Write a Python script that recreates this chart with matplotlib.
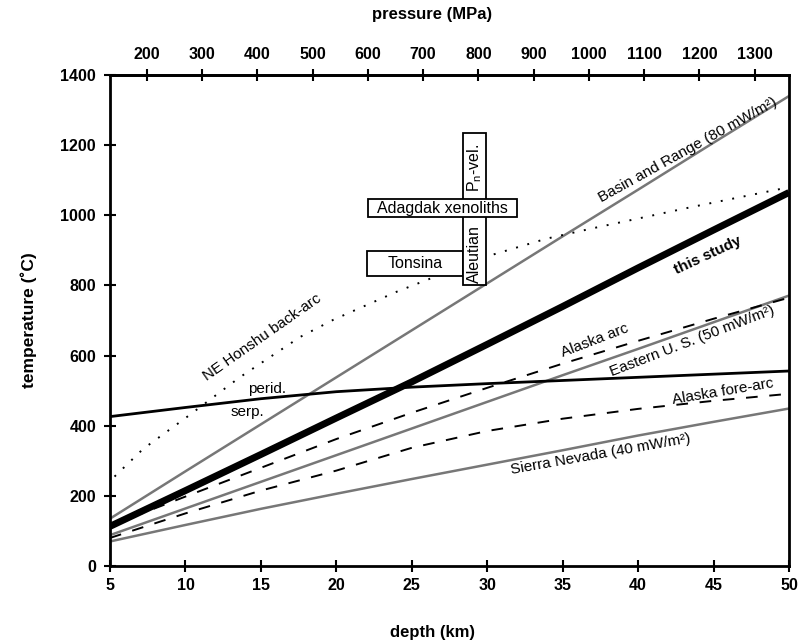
import matplotlib
matplotlib.use("Agg")
import matplotlib.pyplot as plt
from matplotlib.patches import Rectangle

plt.rcParams['font.family'] = ['Liberation Sans', 'DejaVu Sans']

# ---------------- data ----------------
depth_km = [5, 10, 15, 20, 25, 30, 35, 40, 45, 50]
this_study = [113, 215, 318, 422, 525, 632, 740, 850, 958, 1065]
basin_range = [135, 270, 404, 538, 672, 806, 940, 1073, 1207, 1340]
eastern_us = [88, 164, 240, 316, 392, 468, 544, 619, 695, 771]
sierra_nevada = [70, 117, 163, 206, 248, 289, 330, 372, 411, 449]
alaska_arc = [115, 198, 280, 362, 437, 508, 577, 642, 705, 765]
alaska_forearc = [80, 150, 215, 272, 337, 385, 420, 448, 471, 491]
perid_serp = [426, 452, 477, 497, 510, 520, 529, 538, 547, 556]

honshu_depth = [5.3, 7.2, 10.1, 13.6, 17.6, 19.8, 24, 30, 33.9, 37, 43.6, 50]
honshu_temp = [255, 334, 425, 538, 653, 702, 782, 883, 933, 963, 1024, 1080]

# boxes: (depth_min, depth_max, T_min, T_max)
aleutian_box = (28.4, 29.9, 802, 1235)
adagdak_box = (22.1, 32.0, 995, 1046)
tonsina_box = (22.0, 28.4, 827, 899)

x_ticks = [5, 10, 15, 20, 25, 30, 35, 40, 45, 50]
y_ticks = [0, 200, 400, 600, 800, 1000, 1200, 1400]
p_ticks = [200, 300, 400, 500, 600, 700, 800, 900, 1000, 1100, 1200, 1300]
MPA_PER_KM = 27.3
MPA_OFFSET = -3.0

# ---------------- figure ----------------
W, H = 798, 643
fig = plt.figure(figsize=(W/100, H/100), dpi=100)
ax = fig.add_axes([110/W, (H-566)/H, (789-110)/W, (566-75)/H])

gray = '#777777'
ax.plot(depth_km, basin_range, color=gray, lw=1.8, zorder=2)
ax.plot(depth_km, eastern_us, color=gray, lw=1.8, zorder=2)
ax.plot(depth_km, sierra_nevada, color=gray, lw=1.8, zorder=2)
ax.plot(depth_km, alaska_arc, color='black', lw=1.4, linestyle=(0, (6, 6)), zorder=2)
ax.plot(depth_km, alaska_forearc, color='black', lw=1.4, linestyle=(0, (6, 6)), zorder=2)
ax.plot(honshu_depth, honshu_temp, color='black', lw=1.4, linestyle=(0, (1, 5)), zorder=2)
ax.plot(depth_km, perid_serp, color='black', lw=2.0, zorder=3)
ax.plot(depth_km, this_study, color='black', lw=5.0, zorder=3, solid_capstyle='butt')

# boxes
def box(b, z):
    r = Rectangle((b[0], b[2]), b[1]-b[0], b[3]-b[2], facecolor='white',
                  edgecolor='black', lw=1.3, zorder=z)
    ax.add_patch(r)

box(tonsina_box, 5)
box(aleutian_box, 5)
box(adagdak_box, 6)

ax.text((tonsina_box[0]+tonsina_box[1])/2, (tonsina_box[2]+tonsina_box[3])/2, 'Tonsina',
        ha='center', va='center', fontsize=11.5, zorder=7)
ax.text((adagdak_box[0]+adagdak_box[1])/2, (adagdak_box[2]+adagdak_box[3])/2, 'Adagdak xenoliths',
        ha='center', va='center', fontsize=11.5, zorder=7)
ax.text((aleutian_box[0]+aleutian_box[1])/2, 890, 'Aleutian', rotation=90,
        ha='center', va='center', fontsize=11.5, zorder=7)
ax.text((aleutian_box[0]+aleutian_box[1])/2, 1135, r'P$_\mathregular{n}$-vel.', rotation=90,
        ha='center', va='center', fontsize=11.5, zorder=7)

# line labels
lab = dict(fontsize=11, ha='center', va='center', rotation_mode='anchor', zorder=8)
ax.text(43.3, 1185, 'Basin and Range (80 mW/m²)', rotation=29, **lab)
ax.text(15.1, 652, 'NE Honshu back-arc', rotation=35, **lab)
ax.text(44.6, 885, 'this study', rotation=25, fontweight='bold', **lab)
ax.text(37.1, 642, 'Alaska arc', rotation=21, **lab)
ax.text(43.6, 642, 'Eastern U. S. (50 mW/m²)', rotation=21, **lab)
ax.text(45.6, 498, 'Alaska fore-arc', rotation=9.5, **lab)
ax.text(37.5, 318, 'Sierra Nevada (40 mW/m²)', rotation=10, **lab)
ax.text(15.4, 505, 'perid.', **lab)
ax.text(14.1, 439, 'serp.', **lab)

# axes formatting
ax.set_xlim(5, 50)
ax.set_ylim(0, 1400)
ax.set_xticks(x_ticks)
ax.set_yticks(y_ticks)
for s in ax.spines.values():
    s.set_linewidth(2.0)
ax.tick_params(direction='inout', length=8, width=1.5, labelsize=11.5)
for t in ax.get_xticklabels() + ax.get_yticklabels():
    t.set_fontweight('bold')
ax.tick_params(axis='x', pad=5)
ax.tick_params(axis='y', pad=6)

ax.set_ylabel('temperature (˚C)', fontsize=12.5, fontweight='bold', labelpad=17)
fig.text(432/W, 1 - 632/H, 'depth (km)', fontsize=12, fontweight='bold',
         ha='center', va='center')
fig.text(432/W, 1 - 14/H, 'pressure (MPa)', fontsize=12, fontweight='bold',
         ha='center', va='center')

sec = ax.secondary_xaxis('top', functions=(lambda d: d*MPA_PER_KM + MPA_OFFSET,
                                           lambda p: (p - MPA_OFFSET)/MPA_PER_KM))
sec.set_xticks(p_ticks)
sec.tick_params(direction='inout', length=8, width=1.5, labelsize=11.5, pad=5)
for t in sec.get_xticklabels():
    t.set_fontweight('bold')
sec.spines['top'].set_linewidth(2.0)

fig.savefig('out.png', dpi=100)
